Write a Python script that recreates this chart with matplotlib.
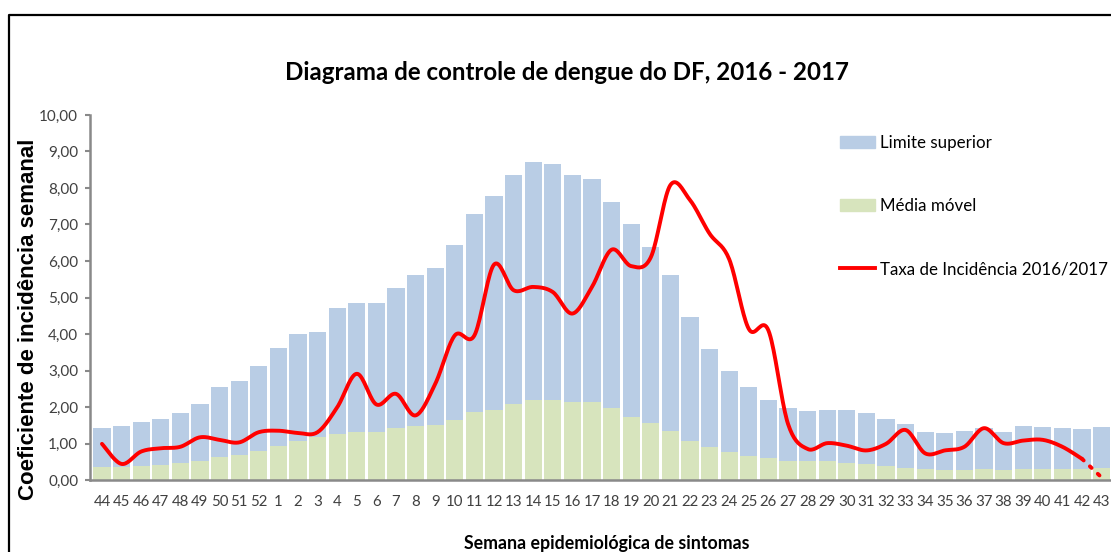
import matplotlib
matplotlib.use("Agg")
import matplotlib.pyplot as plt
import matplotlib.patches as mpatches
from matplotlib.lines import Line2D
import numpy as np

# Semanas epidemiologicas
semanas = ['44', '45', '46', '47', '48', '49', '50', '51', '52'] + [str(i) for i in range(1, 44)]

# Limite superior
limite = [1.42, 1.49, 1.58, 1.66, 1.84, 2.07, 2.55, 2.72, 3.13, 3.61, 3.99, 4.05, 4.70,
          4.86, 4.86, 5.26, 5.61, 5.82, 6.43, 7.29, 7.77, 8.35, 8.70, 8.66, 8.35, 8.25,
          7.63, 7.02, 6.37, 5.62, 4.47, 3.59, 2.99, 2.56, 2.20, 1.97, 1.90, 1.93, 1.93,
          1.83, 1.66, 1.53, 1.32, 1.29, 1.35, 1.43, 1.32, 1.49, 1.45, 1.42, 1.39, 1.45]

# Media movel
media = [0.35, 0.35, 0.38, 0.42, 0.46, 0.53, 0.62, 0.69, 0.79, 0.92, 1.06, 1.19, 1.26,
         1.31, 1.31, 1.42, 1.47, 1.51, 1.65, 1.85, 1.93, 2.09, 2.18, 2.20, 2.15, 2.13,
         1.98, 1.72, 1.56, 1.35, 1.08, 0.90, 0.76, 0.65, 0.59, 0.51, 0.51, 0.51, 0.47,
         0.44, 0.39, 0.33, 0.29, 0.27, 0.27, 0.30, 0.27, 0.30, 0.30, 0.30, 0.30, 0.33]

# Taxa de incidencia 2016/2017 (ate semana 43)
taxa = [0.99, 0.44, 0.78, 0.87, 0.91, 1.17, 1.10, 1.03, 1.31, 1.35, 1.29, 1.31, 1.99,
        2.91, 2.07, 2.36, 1.77, 2.63, 3.96, 3.96, 5.90, 5.20, 5.29, 5.15, 4.56, 5.29,
        6.31, 5.86, 6.10, 8.08, 7.67, 6.75, 6.05, 4.14, 4.10, 1.54, 0.85, 1.01, 0.94,
        0.81, 0.99, 1.37, 0.73, 0.81, 0.91, 1.42, 1.01, 1.08, 1.10, 0.91, 0.58, 0.07]


# Lissage type Excel (Catmull-Rom)
def lisse(xs, ys, n=20):
	xs = np.asarray(xs, float)
	ys = np.asarray(ys, float)
	px = np.concatenate([[xs[0]], xs, [xs[-1]]])
	py = np.concatenate([[ys[0]], ys, [ys[-1]]])
	t = np.linspace(0, 1, n)
	ox, oy = [], []
	for i in range(1, len(px) - 2):
		for p, o in ((px, ox), (py, oy)):
			p0, p1, p2, p3 = p[i - 1], p[i], p[i + 1], p[i + 2]
			c1 = p1 + (p2 - p0) / 6
			c2 = p2 - (p3 - p1) / 6
			o.extend((1 - t) ** 3 * p1 + 3 * (1 - t) ** 2 * t * c1 + 3 * (1 - t) * t ** 2 * c2 + t ** 3 * p2)
	return np.array(ox), np.array(oy)


police = ['Lato', 'DejaVu Sans']
x = np.arange(len(semanas))

fig = plt.figure(figsize=(11.11, 5.52), dpi=100)
ax = fig.add_axes([90 / 1111, 72 / 552, 1021 / 1111, 365 / 552])

ax.bar(x, limite, width=0.88, color='#B9CDE5', zorder=1)
ax.bar(x, media, width=0.88, color='#D7E4BD', zorder=2)

lx, ly = lisse(x[:-1], taxa[:-1])
ax.plot(lx, ly, color='#FF0000', lw=2.8, zorder=3, solid_capstyle='round')
ax.plot(x[-2:], taxa[-2:], color='#FF0000', lw=2.8, ls=(0, (0.6, 2.2)), dash_capstyle='round', zorder=3)

ax.set_xlim(-0.61, 51.48)
ax.set_ylim(0, 10)
ax.set_yticks(np.arange(0, 11, 1))
ax.set_yticklabels(['%d,00' % v for v in range(11)], family=police, fontsize=11, color='#404040')
ax.set_xticks(x)
ax.set_xticklabels(semanas, family=police, fontsize=10.8, color='#404040')
ax.tick_params(axis='x', length=0, pad=11)
ax.tick_params(axis='y', length=3.5, width=1.5, color='#898989', pad=5)
for s in ['top', 'right']:
	ax.spines[s].set_visible(False)
for s in ['left', 'bottom']:
	ax.spines[s].set_color('#898989')
	ax.spines[s].set_linewidth(1.8)

ax.set_ylabel('Coeficiente de incidência semanal', family='Liberation Sans', fontweight='bold',
              fontsize=16)
ax.yaxis.set_label_coords(-51 / 1021, 0.44)
fig.text(607 / 1111, 1 - 543 / 552, 'Semana epidemiológica de sintomas', family=police,
         fontweight='bold', fontsize=12.8, ha='center', va='center')
fig.text(567 / 1111, 1 - 72 / 552, 'Diagrama de controle de dengue do DF, 2016 - 2017', family=police,
         fontweight='bold', fontsize=17.4, ha='center', va='center')

handles = [mpatches.Patch(color='#B9CDE5'), mpatches.Patch(color='#D7E4BD'),
           Line2D([], [], color='#FF0000', lw=2.8)]
labels = ['Limite superior', 'Média móvel', 'Taxa de Incidência 2016/2017']
fig.legend(handles, labels, loc='upper left', bbox_to_anchor=(840 / 1111, 1 - 135 / 552),
           frameon=False, prop={'family': police, 'size': 12.2}, labelspacing=2.78,
           handlelength=2.05, handleheight=0.72, handletextpad=0.33, borderpad=0,
           borderaxespad=0)

# Cadre
fig.add_artist(Line2D([9 / 1111, 9 / 1111, 1.0], [0, 1 - 14.5 / 552, 1 - 14.5 / 552],
                      transform=fig.transFigure, color='black', lw=1.6))

fig.savefig('out.png', dpi=100)
